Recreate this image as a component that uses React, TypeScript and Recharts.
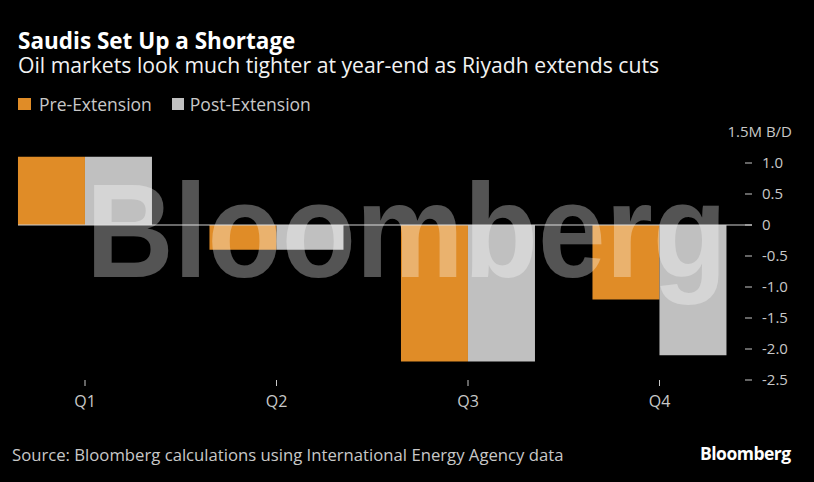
import React from 'react'
import { BarChart, Bar, XAxis, YAxis, ReferenceLine } from 'recharts'

const quarters = ['Q1', 'Q2', 'Q3', 'Q4']
const preExtension = [1.1, -0.4, -2.2, -1.2]
const postExtension = [1.1, -0.4, -2.2, -2.1]
const yTicks = [1.5, 1.0, 0.5, 0, -0.5, -1.0, -1.5, -2.0, -2.5]

const ORANGE = '#e08c27'
const GRAY = '#c0c0c0'
const FONT = '"Open Sans", "Noto Sans", sans-serif'

const data = quarters.map((q, i) => ({ q, pre: preExtension[i], post: postExtension[i] }))

function YTick(props: any) {
  const { x, y, payload } = props
  if (payload.value === 1.5) {
    return (
      <text x={x + 40} y={y} dy={5} textAnchor="end" fill="#c8c8c8" fontSize={15} fontFamily={FONT}>
        1.5M B/D
      </text>
    )
  }
  const label = payload.value === 0 ? '0' : payload.value.toFixed(1)
  return (
    <g>
      <line x1={x - 7} x2={x} y1={y} y2={y} stroke="#c8c8c8" strokeWidth={1} />
      <text x={x + 10} y={y} dy={5} textAnchor="start" fill="#c8c8c8" fontSize={15} fontFamily={FONT}>
        {label}
      </text>
    </g>
  )
}

export default function App() {
  return (
    <div style={{ position: 'fixed', left: 0, top: 0, width: 814, height: 482, background: '#000', overflow: 'hidden', fontFamily: FONT }}>
      <div style={{ position: 'absolute', left: 18, top: 25, color: '#fff', fontSize: 22.5, fontWeight: 700 }}>
        Saudis Set Up a Shortage
      </div>
      <div style={{ position: 'absolute', left: 18, top: 50, color: '#f2f2f2', fontSize: 21.2 }}>
        Oil markets look much tighter at year-end as Riyadh extends cuts
      </div>
      <div style={{ position: 'absolute', left: 18, top: 92, color: '#c8c8c8', fontSize: 17.5, display: 'flex', alignItems: 'center' }}>
        <span style={{ width: 13, height: 12, background: ORANGE, display: 'inline-block', marginRight: 8 }} />
        <span style={{ marginRight: 20 }}>Pre-Extension</span>
        <span style={{ width: 12, height: 12, background: GRAY, display: 'inline-block', marginRight: 6 }} />
        <span>Post-Extension</span>
      </div>

      <div style={{ position: 'absolute', left: 0, top: 0 }}>
        <BarChart
          width={814}
          height={482}
          data={data}
          margin={{ top: 132, right: 0, bottom: 72, left: 18 }}
          barGap={0}
          barCategoryGap="15%"
        >
          <XAxis
            dataKey="q"
            height={30}
            axisLine={false}
            tickLine={{ stroke: '#c8c8c8' }}
            tickSize={6}
            tickMargin={10}
            padding={{ left: -28.75, right: -3.25 }}
            tick={{ fill: '#c8c8c8', fontSize: 16, fontFamily: FONT }}
            interval={0}
          />
          <YAxis
            orientation="right"
            domain={[-2.5, 1.5]}
            ticks={yTicks}
            axisLine={false}
            tickLine={false}
            tickSize={0}
            tickMargin={0}
            width={62}
            tick={<YTick />}
            interval={0}
          />
          <Bar dataKey="pre" fill={ORANGE} isAnimationActive={false} />
          <Bar dataKey="post" fill={GRAY} isAnimationActive={false} />
          <ReferenceLine y={0} stroke="#d0d0d0" strokeWidth={1} />
        </BarChart>
      </div>

      {/* watermark */}
      <svg width={814} height={482} style={{ position: 'absolute', left: 0, top: 0, pointerEvents: 'none' }}>
        <text
          x={86}
          y={277}
          fontFamily='"Liberation Sans", Arial, sans-serif'
          fontWeight={700}
          fontSize={134}
          textLength={641}
          lengthAdjust="spacingAndGlyphs"
          fill="rgba(255,255,255,0.33)"
        >
          Bloomberg
        </text>
      </svg>

      <div style={{ position: 'absolute', left: 12, top: 443, color: '#c8c8c8', fontSize: 16.7 }}>
        Source: Bloomberg calculations using International Energy Agency data
      </div>
      <div style={{ position: 'absolute', left: 700, top: 441, color: '#fff', fontSize: 17.5, fontWeight: 700, letterSpacing: -0.5 }}>
        Bloomberg
      </div>
    </div>
  )
}
